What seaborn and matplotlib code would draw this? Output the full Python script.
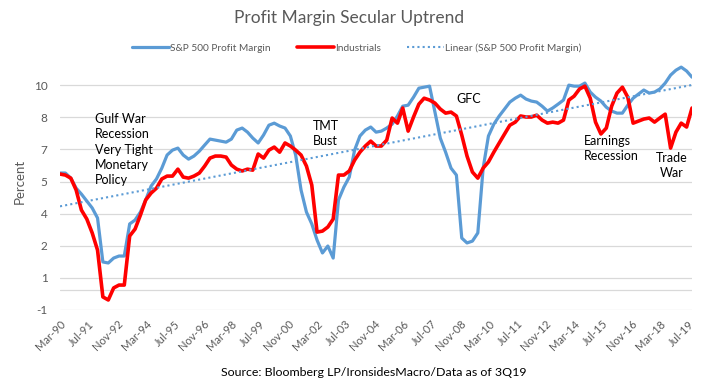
import numpy as np
import pandas as pd
import matplotlib
matplotlib.use("Agg")
import matplotlib.pyplot as plt
import seaborn as sns

# === Data: quarterly, Mar-90 .. Sep-19 ===
dates = pd.date_range("1990-03-01", "2019-09-01", freq="3MS")

sp500_margin = [
    5.70, 5.70, 5.45, 4.96, 4.67, 4.33, 3.99, 3.50, 1.35, 1.30,
    1.54, 1.64, 1.64, 3.21, 3.40, 3.79, 4.38, 5.06, 5.41, 5.94,
    6.58, 6.82, 6.92, 6.58, 6.38, 6.53, 6.77, 7.07, 7.36, 7.31,
    7.26, 7.21, 7.36, 7.80, 7.90, 7.70, 7.41, 7.17, 7.56, 8.04,
    8.14, 8.00, 7.90, 7.51, 6.58, 4.87, 3.79, 3.21, 2.42, 1.79,
    2.13, 1.54, 4.38, 5.01, 5.50, 6.82, 7.51, 7.80, 7.95, 7.70,
    7.75, 7.90, 8.09, 8.49, 8.97, 9.02, 9.41, 9.85, 9.90, 9.95,
    8.68, 7.41, 6.72, 5.94, 5.60, 2.52, 2.28, 2.37, 2.77, 5.94,
    7.51, 8.09, 8.49, 8.83, 9.17, 9.36, 9.51, 9.32, 9.22, 9.17,
    8.97, 8.73, 8.88, 9.07, 9.27, 10.00, 9.95, 9.95, 10.10, 9.66,
    9.41, 9.22, 8.92, 8.73, 8.63, 8.63, 9.02, 9.36, 9.56, 9.76,
    9.61, 9.66, 9.81, 10.10, 10.49, 10.73, 10.88, 10.69, 10.39,
]

industrials = [
    5.65, 5.60, 5.45, 4.87, 3.89, 3.45, 2.77, 1.93, -0.36, -0.51,
    0.08, 0.22, 0.22, 2.62, 2.96, 3.64, 4.38, 4.72, 4.96, 5.41,
    5.55, 5.55, 5.89, 5.50, 5.45, 5.55, 5.70, 6.04, 6.43, 6.53,
    6.53, 6.48, 6.09, 5.89, 5.80, 5.89, 5.84, 6.63, 6.43, 6.82,
    6.97, 6.72, 7.17, 7.02, 6.82, 6.58, 6.04, 5.11, 2.81, 2.86,
    3.06, 3.45, 5.60, 5.60, 5.80, 6.33, 6.72, 7.02, 7.26, 7.02,
    7.02, 7.31, 8.39, 8.14, 8.88, 7.75, 8.44, 9.07, 9.36, 9.27,
    9.12, 8.83, 8.63, 8.68, 8.49, 7.56, 6.53, 5.75, 5.45, 5.94,
    6.24, 6.72, 7.17, 7.61, 8.04, 8.19, 8.49, 8.44, 8.44, 8.53,
    8.29, 8.14, 8.19, 8.14, 8.29, 9.27, 9.46, 9.81, 9.95, 9.36,
    8.19, 7.61, 7.90, 8.97, 9.61, 9.90, 9.41, 8.14, 8.24, 8.34,
    8.39, 8.19, 8.39, 8.58, 6.92, 7.70, 8.14, 7.95, 8.88,
]

# y axis: 7 equal steps from -1 to 10, labels rounded like the original
y_ticks = np.linspace(-1, 10, 8)
tick_dates = pd.date_range("1990-03-01", periods=23, freq="16MS")

# text, x px, top y px, alignment
annotations = [
    ("Gulf War\nRecession\nVery Tight\nMonetary\nPolicy", 95, 113, "left"),
    ("TMT\nBust", 313, 120, "left"),
    ("GFC", 456, 93, "left"),
    ("Earnings\nRecession", 584, 135, "left"),
    ("Trade\nWar", 672, 152, "center"),
]

# === Linear trend of S&P 500 margin (like Excel's trendline) ===
t = np.arange(len(dates))
coef = np.polyfit(t, sp500_margin, 1)
trend = np.polyval(coef, t)

df = pd.DataFrame({"date": dates, "sp": sp500_margin, "ind": industrials, "trend": trend})

# === Plot ===
sns.set_style("white")
plt.rcParams["font.family"] = ["Lato", "DejaVu Sans"]

W, H = 712, 382
fig = plt.figure(figsize=(W / 100, H / 100), dpi=100)
ax = fig.add_axes([60 / W, 1 - 310 / H, 632 / W, (310 - 53) / H])

grey = "#595959"
for v in list(y_ticks) + [0]:
    ax.axhline(v, color="#d9d9d9", lw=0.9, zorder=0)

sns.lineplot(data=df, x="date", y="sp", ax=ax, color="#5b9bd5", lw=2.3,
             label="S&P 500 Profit Margin")
sns.lineplot(data=df, x="date", y="ind", ax=ax, color="#ff0000", lw=2.6,
             label="Industrials")
sns.lineplot(data=df, x="date", y="trend", ax=ax, color="#5b9bd5", lw=1.5,
             ls=(0, (1, 1.5)), label="Linear (S&P 500 Profit Margin)")

ax.set_xlim(dates[0], dates[-1])
ax.set_ylim(-1, 10 + 11 / 7)
ax.set_yticks(y_ticks)
ax.set_yticklabels([f"{v:.0f}" for v in y_ticks])
ax.set_xticks(tick_dates)
ax.set_xticklabels([d.strftime("%b-%y") for d in tick_dates], rotation=45,
                   ha="right", rotation_mode="anchor")
ax.tick_params(axis="both", colors=grey, labelsize=8, length=0, pad=6)
ax.tick_params(axis="y", labelsize=8.5, pad=9)
ax.set_xlabel("")
ax.set_ylabel("Percent", color=grey, fontsize=9.5, labelpad=6)
for s in ax.spines.values():
    s.set_visible(False)

ax.legend(loc="center", bbox_to_anchor=(357 / W, 1 - 48 / H),
          bbox_transform=fig.transFigure, ncol=3, frameon=False,
          fontsize=7.3, labelcolor=grey, handlelength=3.6, columnspacing=2.6,
          handletextpad=0.15)

fig.text(349 / W, 1 - 18 / H, "Profit Margin Secular Uptrend", ha="center",
         va="center", fontsize=12.5, color=grey)
fig.text(374 / W, 1 - 372 / H, "Source: Bloomberg LP/IronsidesMacro/Data as of 3Q19",
         ha="center", va="center", fontsize=8.9, color="black")

for txt, px, py, al in annotations:
    fig.text(px / W, 1 - py / H, txt, ha=al, va="top", fontsize=9,
             color="black", linespacing=1.33, multialignment=al)

fig.savefig("out.png", dpi=100)
